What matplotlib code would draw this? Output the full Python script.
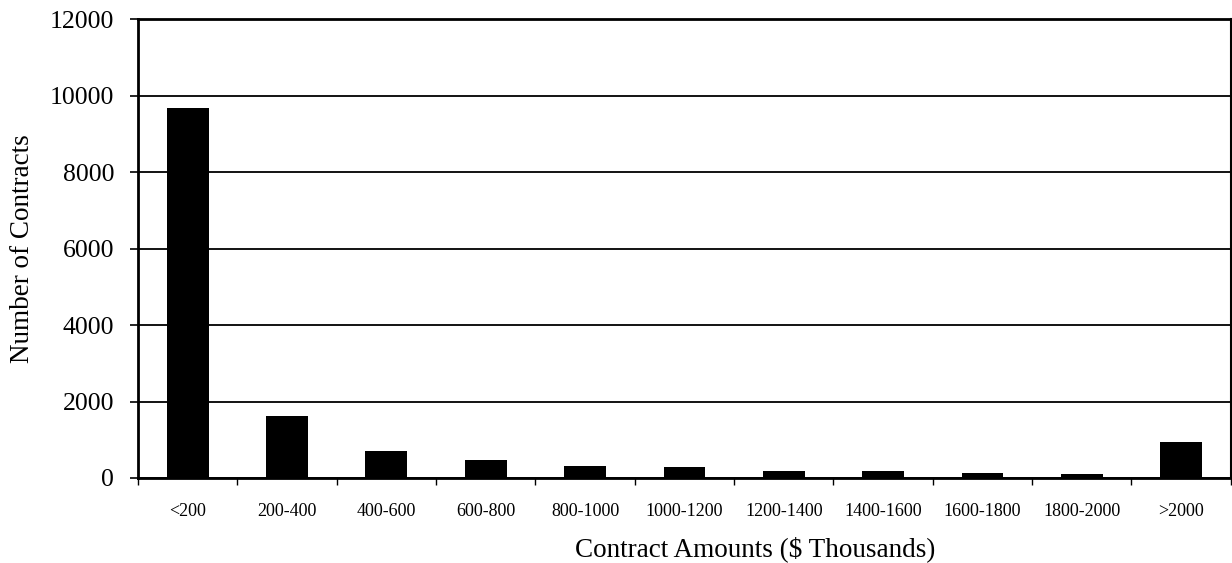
import numpy as np
import matplotlib
matplotlib.use("Agg")
import matplotlib.pyplot as plt

# contract amount bins and number of contracts in each
categories = ["<200", "200-400", "400-600", "600-800", "800-1000", "1000-1200",
              "1200-1400", "1400-1600", "1600-1800", "1800-2000", ">2000"]
counts = [9680, 1620, 710, 470, 320, 290, 175, 175, 140, 105, 940]

plt.rcParams['font.family'] = ['Liberation Serif', 'DejaVu Serif']

fig = plt.figure(figsize=(12.32, 5.63), dpi=100)
ax = fig.add_axes([0.112, 0.151, 0.887, 0.815])

x = np.arange(len(categories))
ax.bar(x, counts, width=0.42, color='black', zorder=3)

ax.set_xlim(-0.5, len(categories) - 0.5)
ax.set_ylim(0, 12000)
ax.set_yticks(range(0, 12001, 2000))
ax.grid(axis='y', color='black', linewidth=1.3, zorder=0)

# labels at bar centres, tick marks between categories
ax.set_xticks(x)
ax.set_xticklabels(categories, fontsize=13)
ax.set_xticks(np.arange(-0.5, len(categories)), minor=True)
ax.tick_params(axis='x', which='major', length=0, pad=18)
ax.tick_params(axis='x', which='minor', length=5, width=1, direction='out')
ax.tick_params(axis='y', labelsize=18.5, length=6, width=1.2, pad=11)

for side in ['left', 'bottom', 'top']:
    ax.spines[side].set_linewidth(2)
ax.spines['right'].set_linewidth(1.5)

ax.set_xlabel("Contract Amounts ($ Thousands)", fontsize=19.5)
ax.xaxis.set_label_coords(0.565, -0.126)
ax.set_ylabel("Number of Contracts", fontsize=19.5, labelpad=11)

fig.savefig("out.png", dpi=100)
